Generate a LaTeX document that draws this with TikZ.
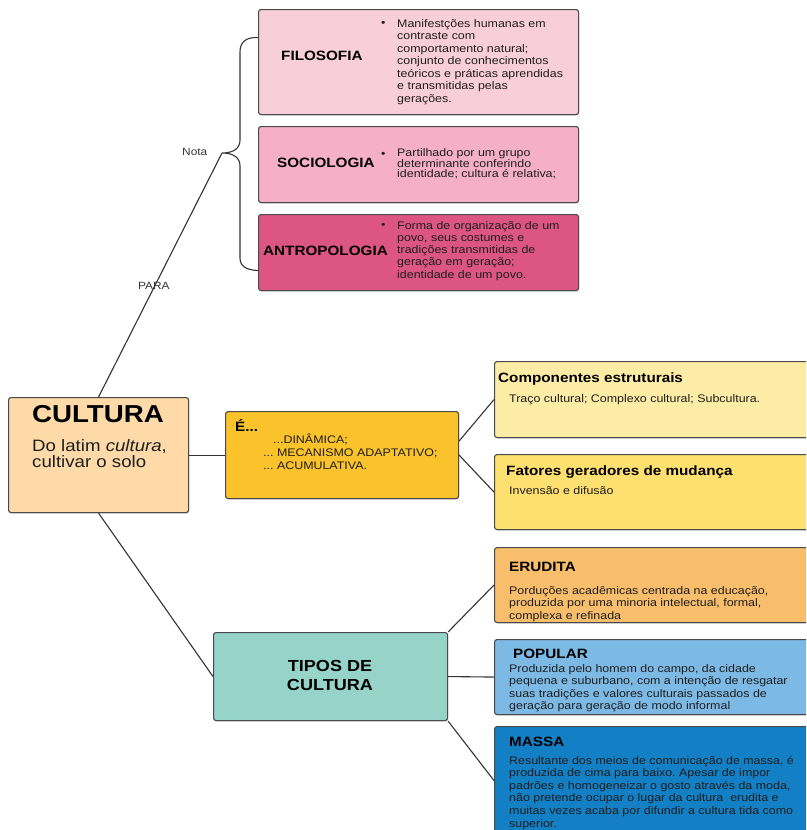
\documentclass[tikz,border=0pt]{standalone}
\usepackage{fontspec}
\setmainfont{Liberation Sans}[FakeStretch=1.13]
\usetikzlibrary{shadows}
\frenchspacing
\definecolor{bordc}{HTML}{4A4A4A}
\definecolor{linec}{HTML}{333333}
\definecolor{txtc}{HTML}{1E1E1E}
\definecolor{cfilo}{HTML}{F9CEDB}
\definecolor{csocio}{HTML}{F5B0C7}
\definecolor{cantro}{HTML}{DD5582}
\definecolor{ccult}{HTML}{FDDAA8}
\definecolor{ce}{HTML}{FAC22B}
\definecolor{ccomp}{HTML}{FDECA6}
\definecolor{cfat}{HTML}{FDE06F}
\definecolor{cerud}{HTML}{F8BE6C}
\definecolor{cpop}{HTML}{7DB9E5}
\definecolor{cmassa}{HTML}{1380C5}
\definecolor{ctipos}{HTML}{96D4C9}
\tikzset{
 box/.style={draw=bordc, line width=1.1pt, rounded corners=2.5pt, anchor=north west, inner sep=0pt,
   drop shadow={shadow xshift=0.8pt, shadow yshift=-1.2pt, opacity=0.25}},
 con/.style={draw=linec, line width=1.1pt},
 hd/.style={anchor=base west, inner sep=0pt, text=black, font=\fontsize{13.5}{16}\selectfont\bfseries},
 bd/.style={anchor=base west, inner sep=0pt, align=left, text=txtc, font=\fontsize{11}{12.5}\selectfont},
 lbl/.style={anchor=base west, inner sep=0pt, text=linec, font=\fontsize{10.5}{12}\selectfont},
}
\begin{document}
\begin{tikzpicture}[x=1pt,y=-1pt]
\useasboundingbox (0,0) rectangle (806,830);
\clip (0,0) rectangle (806,830);

% boxes
\node[box, fill=cfilo, minimum width=320pt, minimum height=105pt] (filo) at (258,9) {};
\node[box, fill=csocio, minimum width=320pt, minimum height=76pt] (socio) at (258,126) {};
\node[box, fill=cantro, minimum width=320pt, minimum height=76pt] (antro) at (258,214) {};
\node[box, fill=ccult, minimum width=180pt, minimum height=115pt] (cult) at (8,397) {};
\node[box, fill=ce, minimum width=233pt, minimum height=87pt] (e) at (225,411) {};
\node[box, fill=ccomp, minimum width=330pt, minimum height=76pt] (comp) at (494,361) {};
\node[box, fill=cfat, minimum width=330pt, minimum height=75pt] (fat) at (494,454) {};
\node[box, fill=cerud, minimum width=330pt, minimum height=75pt] (erud) at (494,547) {};
\node[box, fill=cpop, minimum width=330pt, minimum height=75pt] (pop) at (494,639) {};
\node[box, fill=cmassa, minimum width=330pt, minimum height=108pt] (massa) at (494,726) {};
\node[box, fill=ctipos, minimum width=234pt, minimum height=88pt] (tipos) at (213,632) {};

% connectors
\coordinate (nota) at (222,153);
\draw[con] (cult.north) -- (nota);
\draw[con] ([yshift=24.5pt]filo.west) .. controls (246,37) and (240,42) .. (240,52)
  -- (240,140) .. controls (240,148) and (234,153) .. (nota)
  .. controls (234,153) and (240,158) .. (240,166)
  -- (240,258) .. controls (240,266) and (246,270) .. ([yshift=-18pt]antro.west);
\draw[con] (cult.east) -- (e.west);
\draw[con] ([yshift=14pt]e.east) -- (comp.west);
\draw[con] (e.east) -- (fat.west);
\draw[con] (cult.south) -- (tipos.west);
\draw[con] (tipos.north east) -- (erud.west);
\draw[con] (tipos.east) -- (pop.west);
\draw[con] (tipos.south east) -- (massa.west);

% labels on connectors
\node[lbl] (lnota) at (182,155) {Nota};
\node[lbl] (lpara) at (138,289) {PARA};

% FILOSOFIA
\node[hd] (tfilo) at (281,60) {FILOSOFIA};
\node[bd] (bfilo) at (381,26) {•};
\node[bd] (xfilo) at (397,102) {Manifestções humanas em\\contraste com\\comportamento natural;\\conjunto de conhecimentos\\teóricos e práticas aprendidas\\e transmitidas pelas\\gerações.};

% SOCIOLOGIA
\node[hd] (tsocio) at (277,167) {SOCIOLOGIA};
\node[bd] (bsocio) at (381,157) {•};
\node[bd, font=\fontsize{11}{9.8}\selectfont] (xsocio) at (397,177.6) {Partilhado por um grupo\\determinante conferindo\\identidade; cultura é relativa;};

% ANTROPOLOGIA
\node[hd] (tantro) at (263,255) {ANTROPOLOGIA};
\node[bd] (bantro) at (381,228) {•};
\node[bd, font=\fontsize{11}{12.3}\selectfont] (xantro) at (397,278.2) {Forma de organização de um\\povo, seus costumes e\\tradições transmitidas de\\geração em geração;\\identidade de um povo.};

% CULTURA
\node[anchor=base, inner sep=0pt, font=\fontsize{24.5}{26}\selectfont\bfseries] (tcult) at (98,422) {CULTURA};
\node[bd, font=\fontsize{16.5}{14}\selectfont] (xcult) at (32,467) {Do latim \textit{cultura},\\cultivar o solo};

% E...
\node[hd] (te) at (235,431) {É...};
\node[bd, font=\fontsize{11}{13}\selectfont] (xe) at (263,469) {\hspace*{10pt}...DINÂMICA;\\... MECANISMO ADAPTATIVO;\\... ACUMULATIVA.};

% Componentes
\node[hd] (tcomp) at (498,382) {Componentes estruturais};
\node[bd] (xcomp) at (509,402) {Traço cultural; Complexo cultural; Subcultura.};

% Fatores
\node[hd] (tfat) at (506,475) {Fatores geradores de mudança};
\node[bd] (xfat) at (509,494) {Invensão e difusão};

% TIPOS
\node[anchor=base, inner sep=0pt, align=center, font=\fontsize{16}{19}\selectfont\bfseries] (ttipos) at (330,690) {TIPOS DE\\CULTURA};

% ERUDITA
\node[hd] (terud) at (509,571) {ERUDITA};
\node[bd, font=\fontsize{11}{12.4}\selectfont] (xerud) at (509,619) {Porduções acadêmicas centrada na educação,\\produzida por uma minoria intelectual, formal,\\complexa e refinada};

% POPULAR
\node[hd] (tpop) at (513,658) {POPULAR};
\node[bd, font=\fontsize{11}{12.4}\selectfont] (xpop) at (509,709.5) {Produzida pelo homem do campo, da cidade\\pequena e suburbano, com a intenção de resgatar\\suas tradições e valores culturais passados de\\geração para geração de modo informal};

% MASSA
\node[hd] (tmassa) at (509,746) {MASSA};
\node[bd, font=\fontsize{11}{12.6}\selectfont] (xmassa) at (509,827) {Resultante dos meios de comunicação de massa, é\\produzida de cima para baixo. Apesar de impor\\padrões e homogeneizar o gosto através da moda,\\não pretende ocupar o lugar da cultura\ \ erudita e\\muitas vezes acaba por difundir a cultura tida como\\superior.};
\end{tikzpicture}
\end{document}
